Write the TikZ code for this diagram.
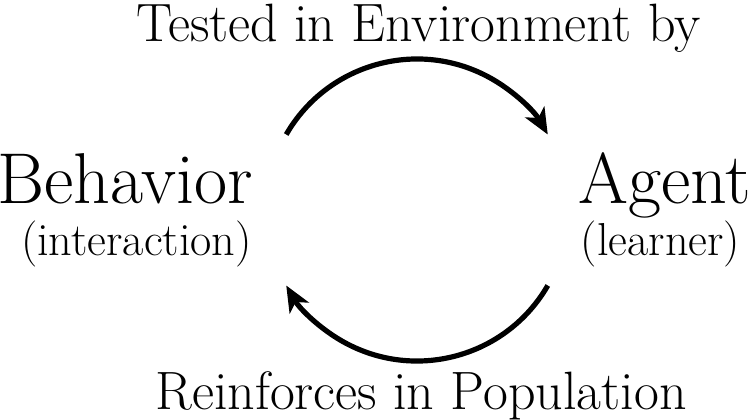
\documentclass[tikz,border=0pt]{standalone}
\usetikzlibrary{arrows.meta}

\tikzset{
  bigword/.style={anchor=base,inner sep=0pt,font=\fontsize{36pt}{40pt}\selectfont},
  smallword/.style={anchor=base,inner sep=0pt,font=\fontsize{23.1pt}{27pt}\selectfont},
  arcword/.style={anchor=base,inner sep=0pt,font=\fontsize{27pt}{31pt}\selectfont},
  cyclearc/.style={line width=2.6pt,-{Stealth[length=13pt,width=11pt,inset=3.5pt]}}
}

\begin{document}
\begin{tikzpicture}[x=0.5pt,y=0.5pt]
\useasboundingbox (0,0) rectangle (750,419);
\coordinate (hub) at (417,209);
\node[bigword] (behavior) at (125.5,216) {Behavior};
\node[smallword] (interaction) at (136.5,164) {(interaction)};
\node[bigword] (agent) at (665,216) {Agent};
\node[smallword] (learner) at (660.5,164) {(learner)};
\node[arcword] (tested) at (418.5,378) {Tested in Environment by};
\node[arcword] (reinforces) at (421,10) {Reinforces in Population};
\draw[cyclearc] (hub) ++(150:151) arc[start angle=150,end angle=30,radius=151];
\draw[cyclearc] (hub) ++(-30:151) arc[start angle=-30,end angle=-150,radius=151];
\end{tikzpicture}
\end{document}
